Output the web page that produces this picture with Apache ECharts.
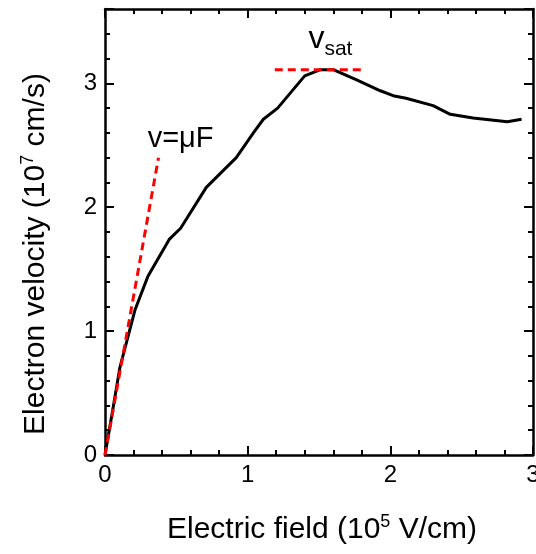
<!DOCTYPE html>
<html>
<head>
    <meta charset="utf-8">
    <script type="text/javascript" src="https://cdn.jsdelivr.net/npm/echarts@6/dist/echarts.min.js"></script>
    <title></title>
    <style>
        html, body { margin: 0; padding: 0; background: #fff; }
        #main { width: 536px; height: 554px; }
    </style>
</head>
<body>
<div id="main"></div>
<script type="text/javascript">
    // curve
    var fieldX = [0, 0.058, 0.105, 0.21, 0.30, 0.45, 0.53, 0.71, 0.92, 1.04, 1.11, 1.21, 1.40, 1.51, 1.60, 1.76, 1.93, 2.02, 2.11, 2.30, 2.42, 2.58, 2.82, 2.92];
    var velocity = [0, 0.39, 0.71, 1.17, 1.44, 1.74, 1.83, 2.16, 2.40, 2.60, 2.71, 2.80, 3.06, 3.11, 3.11, 3.03, 2.94, 2.90, 2.88, 2.82, 2.75, 2.72, 2.69, 2.71];
    // dashed guide lines
    var muX = [0, 0.375];
    var muV = [0, 2.4];
    var satX = [1.19, 1.81];
    var satV = [3.11, 3.11];
    // text annotations
    var muLabelPos = [0.53, 2.55];
    var satLabelPos = [1.58, 3.34];

    var font = 'Liberation Sans, Arial, sans-serif';

    function pairs(xs, ys) {
        var out = [];
        for (var i = 0; i < xs.length; i++) out.push([xs[i], ys[i]]);
        return out;
    }

    function axisBase(extra) {
        var a = {
            type: 'value',
            min: 0,
            splitLine: {show: false},
            axisLine: {show: true, onZero: false, lineStyle: {color: '#000', width: 2.5}},
            axisTick: {show: true, inside: true, length: 9, lineStyle: {color: '#000', width: 2}},
            minorTick: {show: true, splitNumber: 5, length: 5, lineStyle: {color: '#000', width: 2}},
            axisLabel: {show: false}
        };
        for (var k in extra) a[k] = extra[k];
        return a;
    }

    var supStyle = {color: '#000', fontSize: 18, fontFamily: font, lineHeight: 20, verticalAlign: 'top'};

    var myChart = echarts.init(document.getElementById('main'));
    var option = {
        animation: false,
        grid: {left: 105, right: 3, top: 9, bottom: 99, outerBoundsMode: 'none', containLabel: false},
        xAxis: [
            axisBase({
                position: 'bottom', max: 3, interval: 1,
                axisLabel: {show: true, color: '#000', fontSize: 24, fontFamily: font, margin: 8},
                name: 'Electric field (10{sup|5} V/cm)',
                nameLocation: 'middle',
                nameGap: 58,
                nameTextStyle: {
                    color: '#000', fontSize: 30, fontFamily: font, lineHeight: 34,
                    padding: [0, 0, 0, 6],
                    rich: {sup: supStyle}
                }
            }),
            axisBase({position: 'top', max: 3, interval: 1})
        ],
        yAxis: [
            axisBase({
                position: 'left', max: 3.6, interval: 1,
                axisLabel: {show: true, color: '#000', fontSize: 24, fontFamily: font, margin: 8, showMaxLabel: false},
                name: 'Electron velocity (10{sup|7} cm/s)',
                nameLocation: 'middle',
                nameGap: 52,
                nameTextStyle: {
                    color: '#000', fontSize: 30, fontFamily: font, lineHeight: 34,
                    padding: [0, 44, 0, 0],
                    rich: {sup: supStyle}
                }
            }),
            axisBase({position: 'right', max: 3.6, interval: 1})
        ],
        series: [
            {
                type: 'line',
                data: pairs(fieldX, velocity),
                symbol: 'none',
                lineStyle: {color: '#000', width: 3},
                z: 3
            },
            {
                type: 'line',
                data: pairs(muX, muV),
                symbol: 'none',
                lineStyle: {color: '#ff0000', width: 3, type: [8, 5]},
                z: 4
            },
            {
                type: 'line',
                data: pairs(satX, satV),
                symbol: 'none',
                lineStyle: {color: '#ff0000', width: 3, type: [8, 5]},
                z: 4
            },
            {
                type: 'scatter',
                symbolSize: 0,
                itemStyle: {opacity: 1},
                data: [muLabelPos],
                label: {
                    show: true, position: 'inside', color: '#000', fontSize: 29, fontFamily: font,
                    textBorderWidth: 0,
                    formatter: 'v=\u03bcF'
                },
                z: 5
            },
            {
                type: 'scatter',
                symbolSize: 0,
                itemStyle: {opacity: 1},
                data: [satLabelPos],
                label: {
                    show: true, position: 'inside', color: '#000', textBorderWidth: 0,
                    formatter: '{v|v}{s|sat}',
                    rich: {
                        v: {color: '#000', textBorderWidth: 0, fontSize: 32, fontFamily: font, lineHeight: 36, verticalAlign: 'top'},
                        s: {color: '#000', textBorderWidth: 0, fontSize: 21, fontFamily: font, lineHeight: 22, padding: [20, 0, 0, 0], verticalAlign: 'bottom'}
                    }
                },
                z: 5
            }
        ]
    };
    myChart.setOption(option);
</script>
</body>
</html>
